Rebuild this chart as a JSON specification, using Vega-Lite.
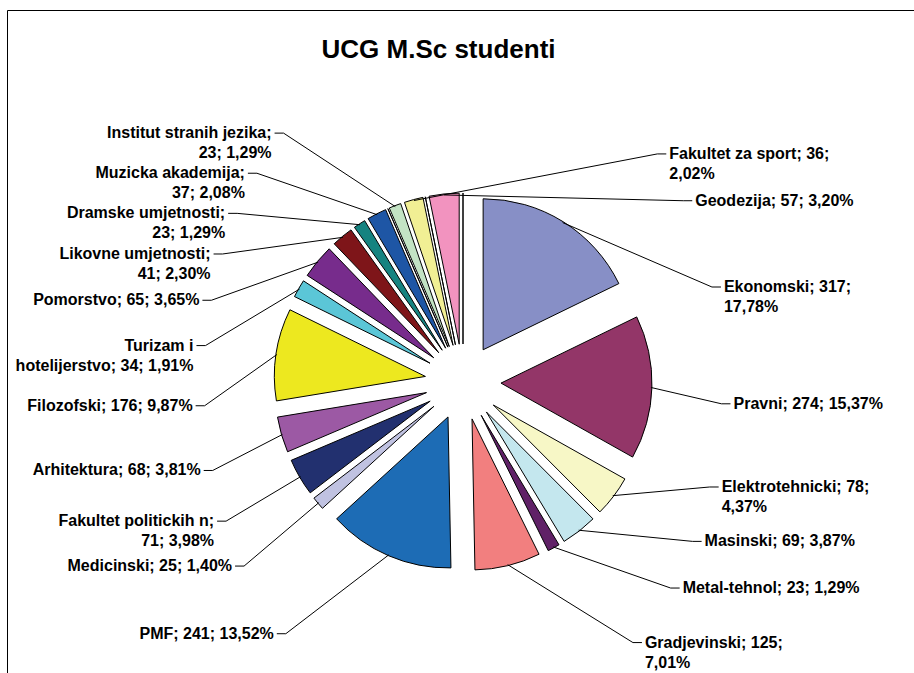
{
  "$schema": "https://vega.github.io/schema/vega-lite/v6.json",
  "width": 907,
  "height": 663,
  "autosize": {"type": "none"},
  "padding": {"left": 7, "top": 10, "right": 0, "bottom": 0},
  "background": "white",
  "config": {"view": {"stroke": "#000000", "strokeWidth": 1}},
  "title": {
    "text": "UCG M.Sc studenti",
    "font": "Liberation Sans",
    "fontSize": 26,
    "fontWeight": "bold",
    "color": "#000000",
    "anchor": "middle",
    "frame": "group",
    "baseline": "alphabetic",
    "offset": 0,
    "dy": 74,
    "dx": -22
  },
  "data": {
    "values": [
      {"k": 1, "name": "Ekonomski", "n": 317, "label": "Ekonomski; 317;\n17,78%"},
      {"k": 2, "name": "Pravni", "n": 274, "label": "Pravni; 274; 15,37%"},
      {"k": 3, "name": "Elektrotehnicki", "n": 78, "label": "Elektrotehnicki; 78;\n4,37%"},
      {"k": 4, "name": "Masinski", "n": 69, "label": "Masinski; 69; 3,87%"},
      {"k": 5, "name": "Metal-tehnol", "n": 23, "label": "Metal-tehnol; 23; 1,29%"},
      {"k": 6, "name": "Gradjevinski", "n": 125, "label": "Gradjevinski; 125;\n7,01%"},
      {"k": 7, "name": "PMF", "n": 241, "label": "PMF; 241; 13,52%"},
      {"k": 8, "name": "Medicinski", "n": 25, "label": "Medicinski; 25; 1,40%"},
      {"k": 9, "name": "Fakultet politickih n", "n": 71, "label": "Fakultet politickih n;\n71; 3,98%"},
      {"k": 10, "name": "Arhitektura", "n": 68, "label": "Arhitektura; 68; 3,81%"},
      {"k": 11, "name": "Filozofski", "n": 176, "label": "Filozofski; 176; 9,87%"},
      {"k": 12, "name": "Turizam i hotelijerstvo", "n": 34, "label": "Turizam i\nhotelijerstvo; 34; 1,91%"},
      {"k": 13, "name": "Pomorstvo", "n": 65, "label": "Pomorstvo; 65; 3,65%"},
      {"k": 14, "name": "Likovne umjetnosti", "n": 41, "label": "Likovne umjetnosti;\n41; 2,30%"},
      {"k": 15, "name": "Dramske umjetnosti", "n": 23, "label": "Dramske umjetnosti;\n23; 1,29%"},
      {"k": 16, "name": "Muzicka akademija", "n": 37, "label": "Muzicka akademija;\n37; 2,08%"},
      {"k": 17, "name": "", "n": 0, "label": ""},
      {"k": 18, "name": "Institut stranih jezika", "n": 23, "label": "Institut stranih jezika;\n23; 1,29%"},
      {"k": 19, "name": "Fakultet za sport", "n": 36, "label": "Fakultet za sport; 36;\n2,02%"},
      {"k": 20, "name": "", "n": 0, "label": ""},
      {"k": 21, "name": "Geodezija", "n": 57, "label": "Geodezija; 57; 3,20%"},
      {"k": 22, "name": "", "n": 0, "label": ""}
    ]
  },
  "transform": [
    {"window": [{"op": "sum", "field": "n", "as": "cum"}], "sort": [{"field": "k"}], "frame": [null, 0]},
    {"joinaggregate": [{"op": "sum", "field": "n", "as": "tot"}]},
    {"calculate": "(datum.cum - datum.n / 2) / datum.tot", "as": "f"},
    {"calculate": "2 * PI * datum.f", "as": "am"},
    {"calculate": "datum.f < 0.5 || datum.f > 0.95 ? 'R' : 'L'", "as": "side"},
    {"calculate": "datum.f > 0.95 ? datum.f - 1 : datum.f", "as": "g"},
    {"calculate": "datum.n > 0 ? datum.n + 120 : 0", "as": "w"},
    {"window": [{"op": "sum", "field": "w", "as": "cw"}], "groupby": ["side"], "sort": [{"field": "g"}, {"field": "k"}], "frame": [null, 0]},
    {"joinaggregate": [{"op": "sum", "field": "w", "as": "tw"}], "groupby": ["side"]},
    {"calculate": "(datum.cw - datum.w / 2) / datum.tw", "as": "t"},
    {"calculate": "datum.side == 'R' ? 250 - 545 * datum.t : -300 + 568 * datum.t", "as": "ly"},
    {"calculate": "(datum.side == 'R' ? 1 : -1) * 268 * sqrt(1 - pow(datum.ly / 350, 2))", "as": "lx"},
    {"calculate": "datum.lx + (datum.side == 'R' ? -9 : 9)", "as": "ex"},
    {"calculate": "38 * sin(datum.am)", "as": "cx"},
    {"calculate": "38 * cos(datum.am)", "as": "cy"},
    {"calculate": "188 * sin(datum.am)", "as": "sx"},
    {"calculate": "188 * cos(datum.am)", "as": "sy"}
  ],
  "layer": [
    {
      "mark": {"type": "arc", "outerRadius": 151, "stroke": "#000000", "strokeWidth": 1},
      "encoding": {
        "theta": {"field": "n", "type": "quantitative", "stack": true},
        "order": {"field": "k", "type": "quantitative"},
        "color": {
          "field": "k",
          "type": "ordinal",
          "scale": {
            "domain": [1, 2, 3, 4, 5, 6, 7, 8, 9, 10, 11, 12, 13, 14, 15, 16, 17, 18, 19, 20, 21, 22],
            "range": ["#878FC6", "#933668", "#F7F7C6", "#C4E7EE", "#602167", "#F27F7F", "#1D6CB5", "#C0C2E1", "#22306F", "#9C59A4", "#EDE81F", "#5BC6D7", "#772C8C", "#7E1519", "#158380", "#1E56A5", "#FFFFFF", "#C3E3C4", "#F1EF94", "#FFFFFF", "#F293BF", "#FFFFFF"]
          },
          "legend": null
        },
        "x": {"field": "cx", "type": "quantitative", "scale": {"domain": [-456, 451], "nice": false, "zero": false}, "axis": null},
        "y": {"field": "cy", "type": "quantitative", "scale": {"domain": [-291, 372], "nice": false, "zero": false}, "axis": null}
      }
    },
    {
      "transform": [{"filter": "datum.n > 0"}],
      "mark": {"type": "rule", "color": "#000000", "strokeWidth": 1},
      "encoding": {
        "x": {"field": "sx", "type": "quantitative", "scale": {"domain": [-456, 451], "nice": false, "zero": false}, "axis": null},
        "y": {"field": "sy", "type": "quantitative", "scale": {"domain": [-291, 372], "nice": false, "zero": false}, "axis": null},
        "x2": {"field": "ex"},
        "y2": {"field": "ly"}
      }
    },
    {
      "transform": [{"filter": "datum.n > 0"}],
      "mark": {"type": "rule", "color": "#000000", "strokeWidth": 1},
      "encoding": {
        "x": {"field": "ex", "type": "quantitative", "scale": {"domain": [-456, 451], "nice": false, "zero": false}, "axis": null},
        "x2": {"field": "lx"},
        "y": {"field": "ly", "type": "quantitative", "scale": {"domain": [-291, 372], "nice": false, "zero": false}, "axis": null}
      }
    },
    {
      "transform": [{"filter": "datum.n > 0 && datum.side == 'L'"}],
      "mark": {"type": "text", "align": "right", "baseline": "middle", "dx": -3, "font": "Liberation Sans", "fontSize": 16, "fontWeight": "bold", "lineBreak": "\n", "lineHeight": 20, "color": "#000000"},
      "encoding": {
        "x": {"field": "lx", "type": "quantitative", "scale": {"domain": [-456, 451], "nice": false, "zero": false}, "axis": null},
        "y": {"field": "ly", "type": "quantitative", "scale": {"domain": [-291, 372], "nice": false, "zero": false}, "axis": null},
        "text": {"field": "label"}
      }
    },
    {
      "transform": [{"filter": "datum.n > 0 && datum.side == 'R'"}],
      "mark": {"type": "text", "align": "left", "baseline": "middle", "dx": 3, "font": "Liberation Sans", "fontSize": 16, "fontWeight": "bold", "lineBreak": "\n", "lineHeight": 20, "color": "#000000"},
      "encoding": {
        "x": {"field": "lx", "type": "quantitative", "scale": {"domain": [-456, 451], "nice": false, "zero": false}, "axis": null},
        "y": {"field": "ly", "type": "quantitative", "scale": {"domain": [-291, 372], "nice": false, "zero": false}, "axis": null},
        "text": {"field": "label"}
      }
    }
  ]
}
